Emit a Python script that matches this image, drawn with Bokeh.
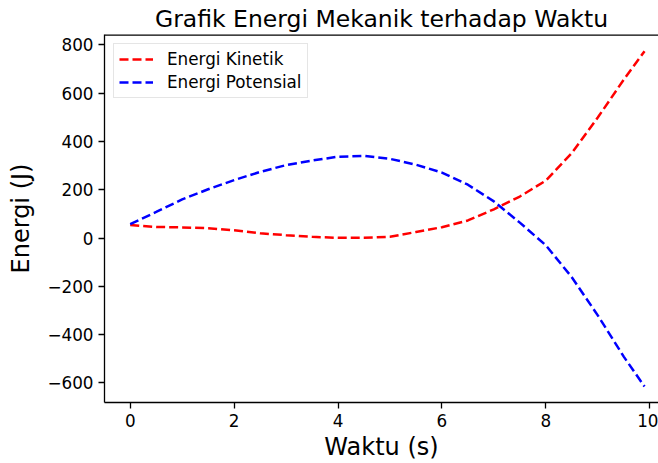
from bokeh.plotting import figure
from bokeh.models import Range1d, FixedTicker, Span
from bokeh.embed import file_html
from bokeh.resources import INLINE

# ---- data ----
waktu = [0.0, 0.5, 1.0, 1.5, 2.0, 2.5, 3.0, 3.5, 4.0, 4.5, 5.0,
         5.5, 6.0, 6.5, 7.0, 7.5, 8.0, 8.5, 9.0, 9.5, 9.9]
energi_kinetik = [54, 46, 44, 41, 32, 20, 12, 5, 1, 1, 5,
                  25, 45, 73, 119, 172, 238, 352, 499, 656, 774]
energi_potensial = [58, 108, 160, 202, 240, 274, 302, 321, 337, 340, 328,
                    304, 271, 221, 152, 64, -30, -162, -320, -491, -615]

x_ticks = [0, 2, 4, 6, 8, 10]
y_ticks = [-600, -400, -200, 0, 200, 400, 600, 800]
y_tick_labels = ["\u2212600", "\u2212400", "\u2212200", "0", "200", "400", "600", "800"]

title_text = "Grafik Energi Mekanik terhadap Waktu"
x_label = "Waktu (s)"
y_label = "Energi (J)"
label_k = "Energi Kinetik"
label_p = "Energi Potensial"

FONT = "DejaVu Sans"

# ---- figure ----
p = figure(width=658, height=463, output_backend="svg", toolbar_location=None,
           x_range=Range1d(-0.495, 10.169), y_range=Range1d(-681, 843),
           min_border_left=104, min_border_right=0, min_border_top=34,
           min_border_bottom=61)

p.title.text = title_text
p.title.text_font = FONT
p.title.text_font_size = "23.5px"
p.title.text_font_style = "normal"
p.title.text_color = "#000000"
p.title.align = "center"
p.title.offset = 6
p.title.standoff = 3

p.outline_line_color = None
p.grid.visible = False
p.background_fill_color = "white"
p.border_fill_color = "white"

# top spine (half of it is clipped by the frame)
p.add_layout(Span(location=843, dimension="width", line_color="black", line_width=2.6))

for ax in (p.xaxis[0], p.yaxis[0]):
    ax.axis_line_width = 1.3
    ax.axis_line_color = "black"
    ax.major_tick_line_color = "black"
    ax.major_tick_line_width = 1.3
    ax.major_tick_out = 6
    ax.major_tick_in = 0
    ax.minor_tick_line_color = None
    ax.major_label_text_font = FONT
    ax.major_label_text_font_size = "16.8px"
    ax.major_label_text_color = "black"
    ax.major_label_standoff = 5
    ax.axis_label_text_font = FONT
    ax.axis_label_text_font_size = "24px"
    ax.axis_label_text_font_style = "normal"
    ax.axis_label_text_color = "black"

p.xaxis[0].ticker = FixedTicker(ticks=x_ticks)
p.yaxis[0].ticker = FixedTicker(ticks=y_ticks)
p.yaxis[0].major_label_overrides = {t: l for t, l in zip(y_ticks, y_tick_labels)}
p.xaxis[0].axis_label = x_label
p.yaxis[0].axis_label = y_label
p.xaxis[0].axis_label_standoff = 3
p.yaxis[0].axis_label_standoff = 9

p.line(waktu, energi_kinetik, line_color="#ff0000", line_width=2.5,
       line_dash="9 4", legend_label=label_k)
p.line(waktu, energi_potensial, line_color="#0000ff", line_width=2.5,
       line_dash="9 4", legend_label=label_p)

lg = p.legend[0]
lg.location = "top_left"
lg.margin = 9
lg.padding = 5
lg.spacing = 3
lg.glyph_width = 34
lg.glyph_height = 20
lg.label_height = 20
lg.label_standoff = 14
lg.label_text_font = FONT
lg.label_text_font_size = "16.8px"
lg.label_text_color = "black"
lg.border_line_color = "#cccccc"
lg.border_line_width = 1.3
lg.background_fill_alpha = 0.8

open("out.html", "w").write(file_html(p, INLINE))
